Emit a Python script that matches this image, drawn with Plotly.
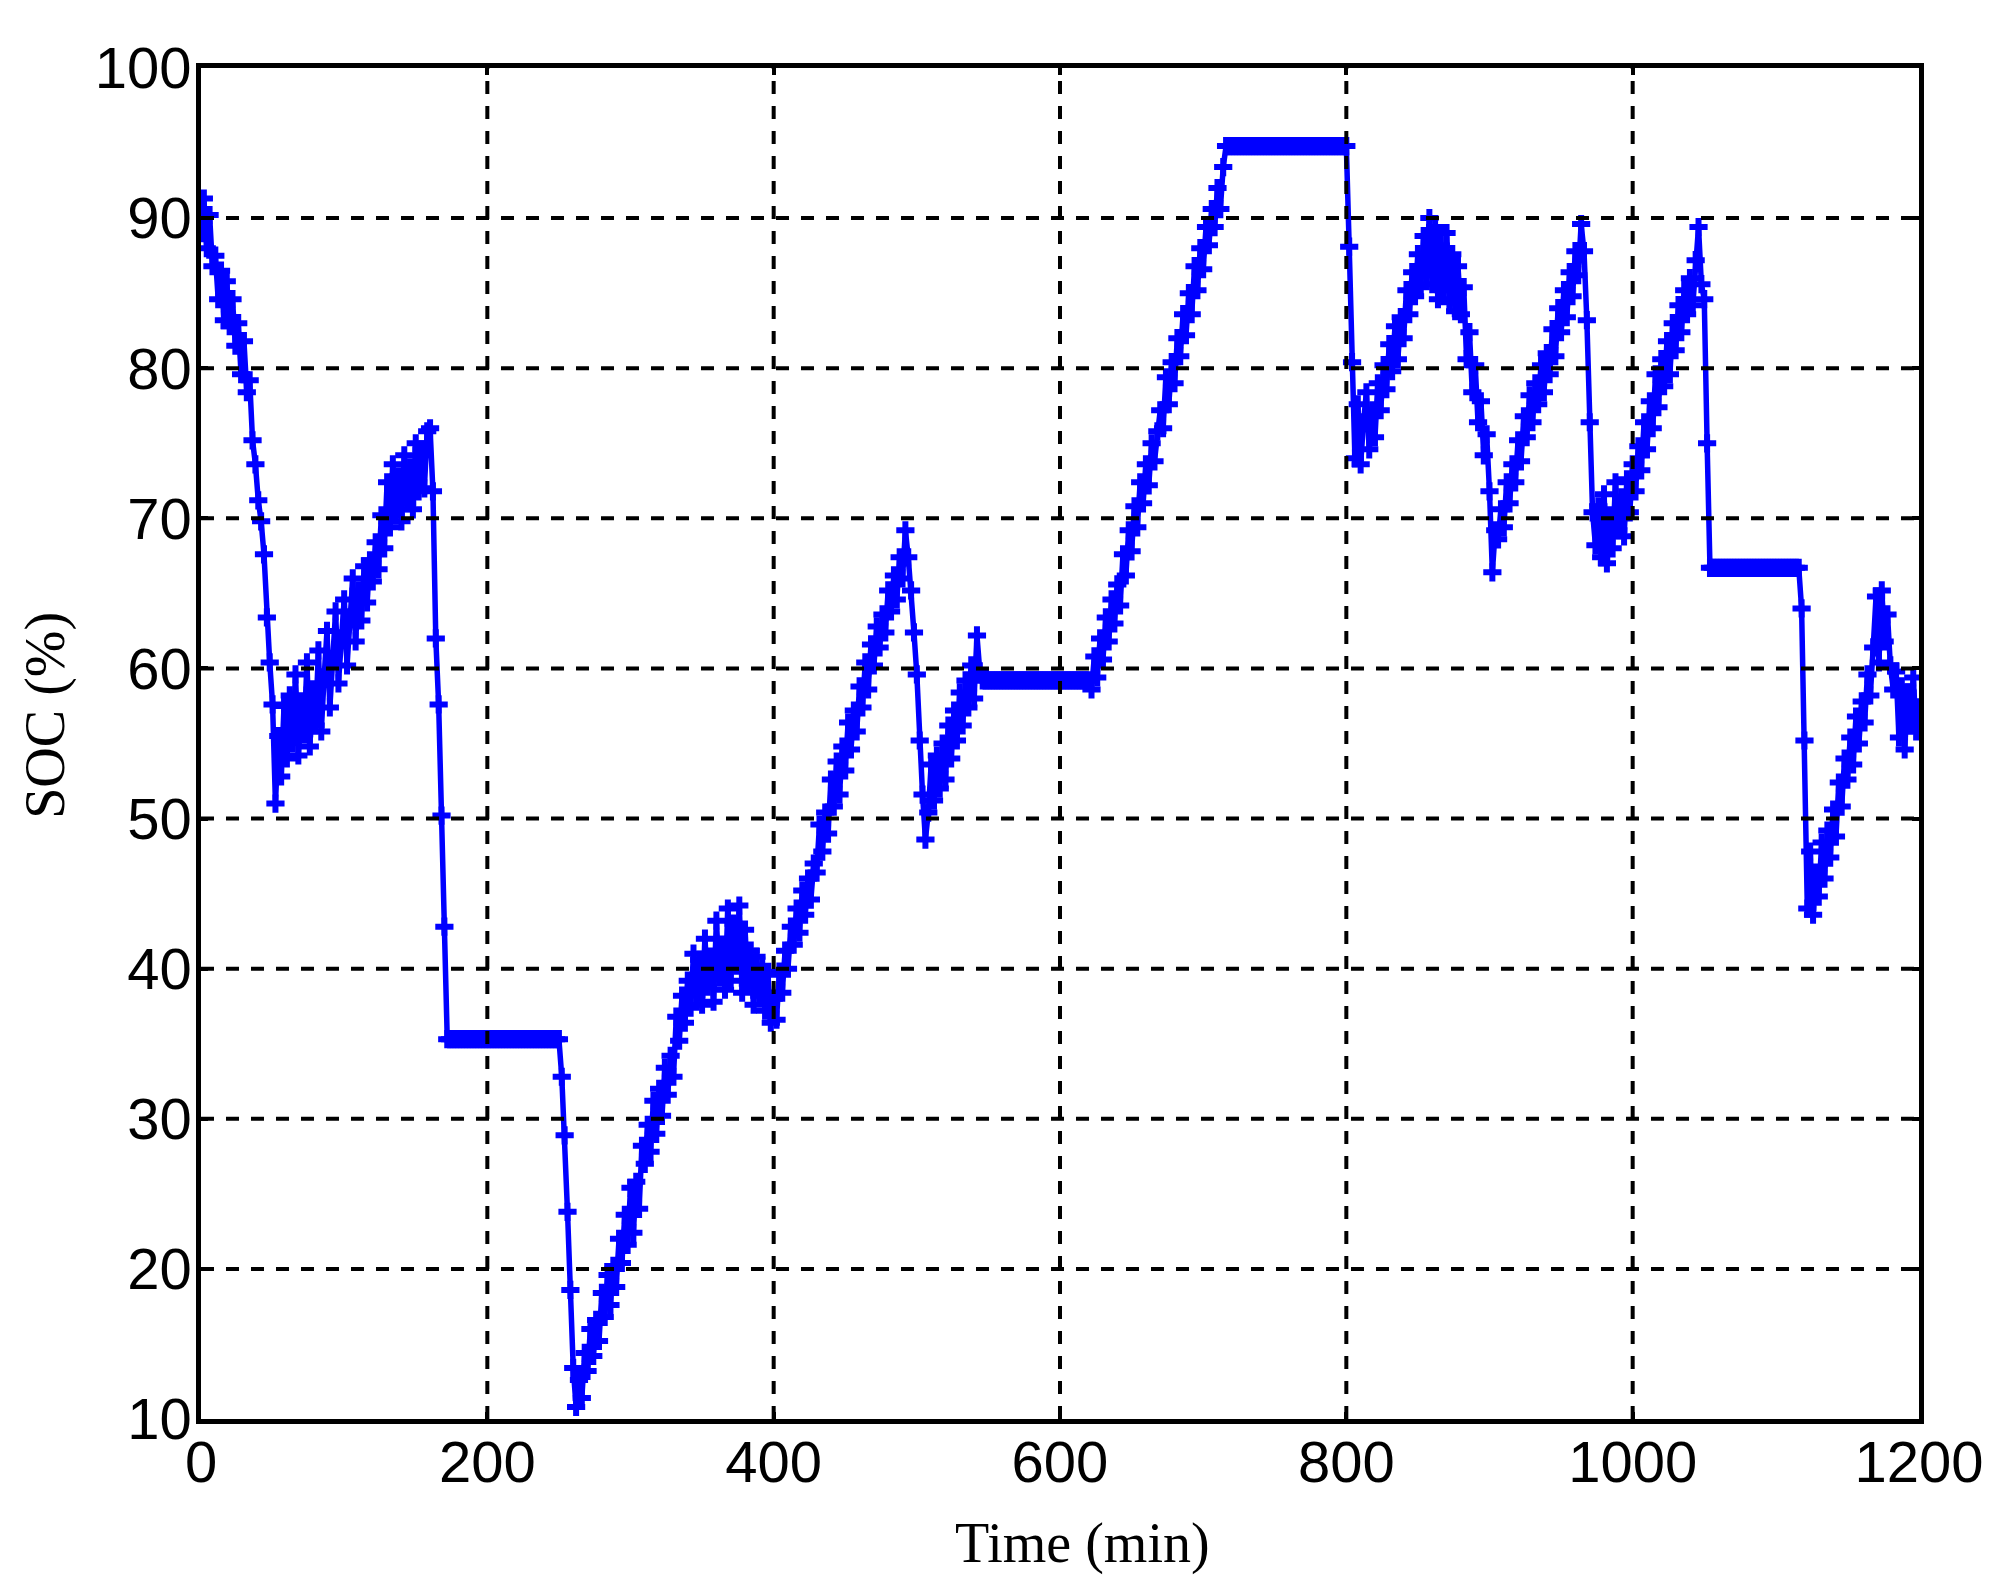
import plotly.graph_objects as go

soc_000_198 = [
    89.0, 91.3, 88.0, 90.2, 86.8, 87.5, 84.6, 86.5, 83.2, 85.8,
    82.8, 84.6, 81.5, 83.0, 79.6, 81.8, 78.4, 79.2, 75.2, 73.6,
    71.2, 69.8, 67.6, 63.4, 60.4, 57.6, 51.0, 55.5, 52.8, 57.5,
    54.0, 58.2, 55.0, 59.6, 54.2, 57.8, 55.6, 60.4, 54.8, 58.6,
    56.2, 61.2, 55.8, 59.4, 62.5, 57.4, 60.6, 63.8, 59.0, 62.0,
    64.6, 60.2, 63.4, 66.0, 61.8, 65.2, 63.2, 66.8, 64.4, 67.2,
    65.8, 68.4, 66.6, 70.2, 68.0, 72.4, 69.4, 73.6, 70.2, 72.8,
    69.8, 74.2, 71.0, 73.4, 70.6, 75.0, 71.8, 74.6, 72.0, 75.8,
    76.0, 71.8, 62.0, 57.6, 50.2, 42.8, 35.3, 35.3, 35.3, 35.3,
    35.3, 35.3, 35.3, 35.3, 35.3, 35.3, 35.3, 35.3, 35.3, 35.3,
]
soc_200_398 = [
    35.3, 35.3, 35.3, 35.3, 35.3, 35.3, 35.3, 35.3, 35.3, 35.3,
    35.3, 35.3, 35.3, 35.3, 35.3, 35.3, 35.3, 35.3, 35.3, 35.3,
    35.3, 35.3, 35.3, 35.3, 35.3,
    35.3, 32.8, 28.9, 23.8, 18.6, 13.4, 10.8, 12.6, 11.4, 14.4,
    13.2, 16.0, 14.2, 16.6, 15.2, 18.4, 16.8, 19.6, 17.6, 20.2,
    18.8, 22.0, 20.4, 23.6, 21.6, 25.4, 22.4, 25.8, 24.0, 28.2,
    27.0, 29.6, 27.8, 31.2, 29.0, 32.0, 30.2, 33.4, 31.6, 34.2,
    32.8, 36.8, 35.2, 38.2, 36.4, 39.2, 37.4, 41.0, 38.2, 40.6,
    37.6, 42.0, 38.8, 40.8, 37.8, 43.2, 39.4, 41.6, 38.6, 44.0,
    39.2, 43.0, 40.2, 44.2, 38.4, 42.6, 39.0, 41.2, 37.6, 40.8,
    38.2, 40.2, 37.2, 39.6, 36.4,
]
soc_400_598 = [
    38.0, 36.6, 39.8, 38.4, 41.2,
    40.0, 42.8, 41.6, 44.0, 42.4, 45.2, 43.6, 46.0, 44.6, 47.0,
    46.4, 49.6, 47.8, 50.4, 49.0, 52.6, 50.8, 53.8, 51.6, 54.8,
    53.2, 56.4, 54.6, 57.2, 55.8, 58.8, 57.4, 60.4, 58.6, 61.6,
    60.2, 62.8, 61.4, 63.6, 62.4, 65.2, 63.8, 66.2, 64.6, 67.4,
    66.0, 69.2, 67.4, 65.2, 62.4, 59.6, 55.2, 51.6, 48.6, 50.4,
    53.6, 51.2, 54.2, 52.0, 55.0, 52.6, 56.2, 54.0, 57.2, 55.2,
    58.4, 56.2, 59.2, 57.4, 60.2, 58.0, 62.2, 59.8, 59.2, 59.2,
    59.2, 59.2, 59.2, 59.2, 59.2, 59.2, 59.2, 59.2, 59.2, 59.2,
    59.2, 59.2, 59.2, 59.2, 59.2, 59.2, 59.2, 59.2, 59.2, 59.2,
    59.2, 59.2, 59.2, 59.2, 59.2,
]
soc_600_798 = [
    59.2, 59.2, 59.2, 59.2, 59.2, 59.2, 59.2, 59.2, 59.2, 59.2,
    59.2, 58.6, 60.8, 59.4, 62.0, 60.6, 63.4, 61.8, 64.6, 63.0,
    65.6, 64.2, 67.6, 66.2, 69.2, 67.8, 70.8, 69.4, 72.4, 71.0,
    73.6, 72.2, 75.0, 73.8, 75.8, 77.2, 76.0, 79.4, 77.6, 80.4,
    79.0, 82.0, 80.8, 83.6, 82.2, 85.0, 83.6, 86.8, 85.2, 88.0,
    86.6, 89.4, 88.2, 90.6, 89.4, 92.0, 90.6, 93.4, 94.8, 94.8,
    94.8, 94.8, 94.8, 94.8, 94.8, 94.8, 94.8, 94.8, 94.8, 94.8,
    94.8, 94.8, 94.8, 94.8, 94.8, 94.8, 94.8, 94.8, 94.8, 94.8,
    94.8, 94.8, 94.8, 94.8, 94.8, 94.8, 94.8, 94.8, 94.8, 94.8,
    94.8, 94.8, 94.8, 94.8, 94.8, 94.8, 94.8, 94.8, 94.8, 94.8,
]
soc_800_998 = [
    94.8, 88.1, 80.4, 74.0, 77.6, 73.6, 76.4, 78.4, 74.6, 77.2,
    75.4, 79.0, 77.2, 80.2, 78.6, 81.6, 79.8, 82.8, 80.6, 83.4,
    82.0, 85.2, 83.6, 86.4, 84.8, 87.6, 85.4, 88.8, 86.2, 90.0,
    85.6, 89.4, 84.6, 88.2, 85.2, 89.0, 84.4, 87.6, 83.8, 86.8,
    83.6, 85.4, 80.6, 82.4, 78.4, 80.2, 76.4, 77.8, 74.2, 75.6,
    71.8, 66.4, 69.2, 68.6, 70.6, 69.4, 72.4, 71.0, 73.6, 72.4,
    75.2, 73.8, 76.8, 75.4, 78.2, 76.4, 79.0, 77.6, 80.2, 78.4,
    81.0, 79.6, 82.6, 80.8, 84.0, 82.4, 85.2, 83.4, 86.4, 84.8,
    87.8, 86.2, 89.6, 87.8, 83.2, 76.4, 70.4, 68.2, 70.8, 67.4,
    71.6, 67.0, 70.2, 68.0, 72.4, 69.2, 71.4, 68.8, 72.6, 70.4,
]
soc_1000_1200 = [
    73.6, 71.8, 74.8, 73.2, 76.4, 74.6, 77.8, 76.0, 79.6, 77.4,
    80.6, 78.8, 81.8, 79.6, 83.0, 81.2, 84.2, 82.4, 85.2, 83.6,
    86.0, 84.2, 87.2, 89.4, 85.6, 84.6, 75.0, 66.7, 66.7, 66.7,
    66.7, 66.7, 66.7, 66.7, 66.7, 66.7, 66.7, 66.7, 66.7, 66.7,
    66.7, 66.7, 66.7, 66.7, 66.7, 66.7, 66.7, 66.7, 66.7, 66.7,
    66.7, 66.7, 66.7, 66.7, 66.7, 66.7, 66.7, 66.7, 66.7,
    64.0, 55.2, 44.0, 47.8, 43.6, 46.4, 44.8, 48.4, 46.0, 49.2, 47.4,
    50.6, 48.8, 52.4, 50.8, 54.0, 52.6, 55.4, 53.6, 56.8, 55.0,
    57.8, 56.4, 59.6, 58.2, 61.4, 64.8, 60.4, 65.2, 61.8, 63.6,
    60.2, 58.6, 59.8, 55.4, 58.8, 54.6, 58.4, 56.2, 59.4, 55.8, 57.4,
]

soc = soc_000_198 + soc_200_398 + soc_400_598 + soc_600_798 + soc_800_998 + soc_1000_1200
time_min = list(range(0, 1201, 2))
assert len(soc) == len(time_min), (len(soc), len(time_min))

x_ticks = [0, 200, 400, 600, 800, 1000, 1200]
y_ticks = [10, 20, 30, 40, 50, 60, 70, 80, 90, 100]
x_label = "Time (min)"
y_label = "SOC (%)"

BLUE = "#0000FF"
TICK_FONT = dict(family="Liberation Sans, Arial, sans-serif", size=58, color="black")
TITLE_FONT = dict(family="Liberation Serif, Times New Roman, serif", size=56, color="black")

fig = go.Figure()
fig.add_trace(go.Scatter(
    x=time_min, y=soc, mode="lines+markers",
    line=dict(color=BLUE, width=5.5),
    marker=dict(symbol="cross-thin", size=13, color=BLUE,
                line=dict(color=BLUE, width=6)),
    showlegend=False,
))

# dashed grid drawn above the data (as in the reference)
grid = dict(color="black", width=4, dash="13px,12px")
for gx in x_ticks[1:-1]:
    fig.add_shape(type="line", xref="x", yref="y", x0=gx, x1=gx,
                  y0=y_ticks[0], y1=y_ticks[-1], line=grid, layer="above")
for gy in y_ticks[1:-1]:
    fig.add_shape(type="line", xref="x", yref="y", x0=x_ticks[0], x1=x_ticks[-1],
                  y0=gy, y1=gy, line=grid, layer="above")

axis_common = dict(
    showgrid=False, zeroline=False, showline=True, linecolor="black", linewidth=4.5,
    mirror="ticks", ticks="inside", ticklen=7, tickwidth=4, tickcolor="black",
    tickfont=TICK_FONT, layer="above traces",
)
fig.update_xaxes(range=[0, 1200], tickvals=x_ticks, ticklabelstandoff=-11, **axis_common)
fig.update_yaxes(range=[10, 100], tickvals=y_ticks, ticklabelstandoff=-7, **axis_common)

fig.add_annotation(text=x_label, xref="paper", yref="paper", x=0.513, y=-0.092,
                   xanchor="center", yanchor="middle", showarrow=False, font=TITLE_FONT)
fig.add_annotation(text=y_label, xref="paper", yref="paper", x=-0.091, y=0.521,
                   xanchor="center", yanchor="middle", showarrow=False, textangle=-90,
                   font=TITLE_FONT)

# the page adds an 8 px body margin, so the figure is offset by 8 px
fig.update_layout(
    width=1990, height=1580,
    margin=dict(l=193, r=79, t=60, b=169),
    plot_bgcolor="white", paper_bgcolor="white",
    showlegend=False,
)

fig.write_html("out.html")
